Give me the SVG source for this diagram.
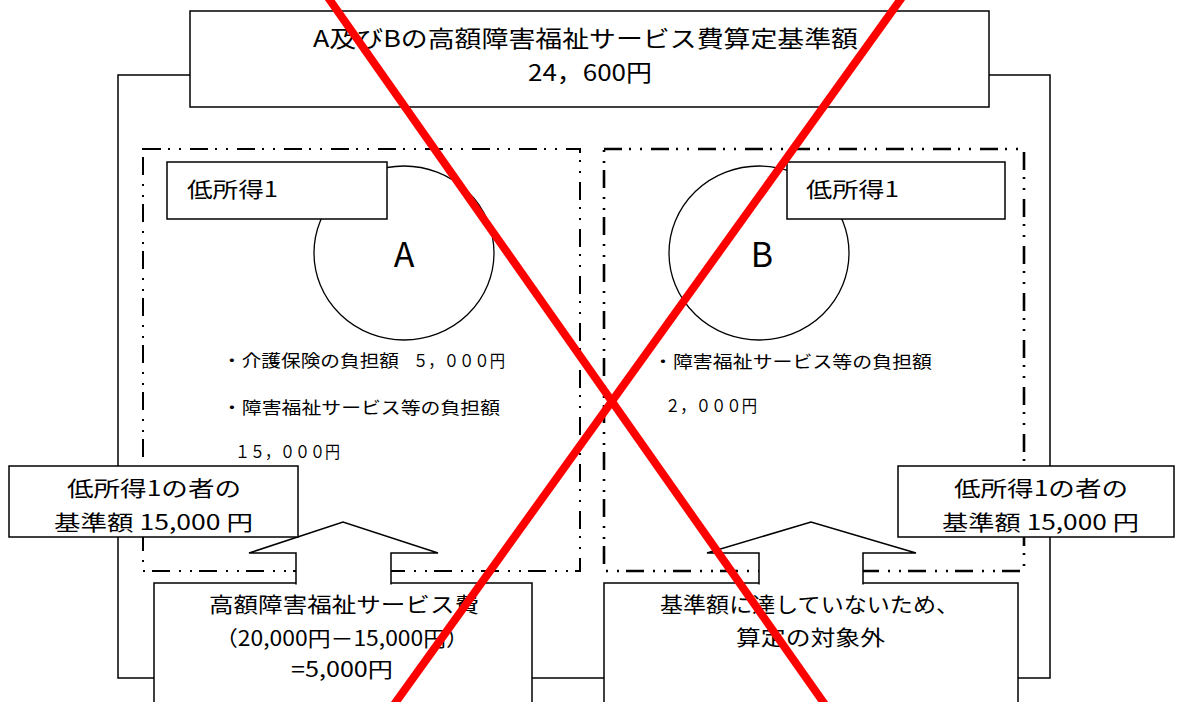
<svg xmlns="http://www.w3.org/2000/svg" width="1184" height="702" viewBox="0 0 1184 702">
<style>
text{font-family:"Noto Sans CJK JP","Noto Sans",sans-serif;fill:#000}
.box{fill:#fff;stroke:#000;stroke-width:1.5}
.frame{fill:none;stroke:#000;stroke-width:1.5}
.dd{fill:none;stroke:#000;stroke-width:2;stroke-dasharray:18 7 2 9 2 9}
.ddb{stroke-width:2.6}
.circ{fill:#fff;stroke:#000;stroke-width:1.3}
.t24{font-size:23px}
.t22{font-size:21px}
.t18{font-size:17px}
.big{font-size:34px}
.arrow{fill:#fff;stroke:#000;stroke-width:1.5;stroke-linejoin:miter}
.red{stroke:#ff0000;stroke-width:8;stroke-linecap:butt}
</style>
<rect width="1184" height="702" fill="#fff"/>
<g id="frame"><rect class="frame" x="118" y="75" width="932" height="603"/></g>
<g id="title">
<rect class="box" x="190" y="11" width="799" height="96"/>
<text class="t24" x="585.5" y="47" text-anchor="middle" textLength="545" lengthAdjust="spacingAndGlyphs">A及びBの高額障害福祉サービス費算定基準額</text>
<text class="t24" x="590" y="81" text-anchor="middle" textLength="124" lengthAdjust="spacingAndGlyphs">24，600円</text>
</g>
<g id="groupA">
<rect class="dd" x="143" y="149" width="437" height="422"/>
<ellipse class="circ" cx="404" cy="253" rx="90" ry="87"/>
<text class="big" x="404" y="267" text-anchor="middle">A</text>
<rect class="box" x="167" y="162" width="220" height="57"/>
<text class="t22" x="187" y="197" textLength="91" lengthAdjust="spacingAndGlyphs">低所得1</text>
<text class="t18" x="222" y="367" textLength="177" lengthAdjust="spacingAndGlyphs">・介護保険の負担額</text>
<text class="t18" x="413" y="367" textLength="92" lengthAdjust="spacingAndGlyphs">５，０００円</text>
<text class="t18" x="222" y="414" textLength="278" lengthAdjust="spacingAndGlyphs">・障害福祉サービス等の負担額</text>
<text class="t18" x="235" y="458" textLength="105" lengthAdjust="spacingAndGlyphs">１５，０００円</text>
</g>
<g id="groupB">
<rect class="dd ddb" x="604" y="149" width="420" height="422"/>
<ellipse class="circ" cx="759" cy="253" rx="90" ry="87"/>
<text class="big" x="762" y="267" text-anchor="middle">B</text>
<rect class="box" x="787" y="162" width="218" height="57"/>
<text class="t22" x="806" y="197" textLength="93" lengthAdjust="spacingAndGlyphs">低所得1</text>
<text class="t18" x="653" y="368" textLength="279" lengthAdjust="spacingAndGlyphs">・障害福祉サービス等の負担額</text>
<text class="t18" x="665" y="412" textLength="92" lengthAdjust="spacingAndGlyphs">２，０００円</text>
</g>
<g id="resultA">
<rect class="box" x="154" y="583" width="378" height="130"/>
<text class="t22" x="344" y="612" text-anchor="middle" textLength="270" lengthAdjust="spacingAndGlyphs">高額障害福祉サービス費</text>
<text class="t22" x="342" y="646" text-anchor="middle" textLength="254" lengthAdjust="spacingAndGlyphs">（20,000円－15,000円）</text>
<text class="t22" x="342" y="677" text-anchor="middle" textLength="102" lengthAdjust="spacingAndGlyphs">=5,000円</text>
</g>
<g id="resultB">
<rect class="box" x="604" y="583" width="414" height="130"/>
<text class="t22" x="809.5" y="612" text-anchor="middle" textLength="299" lengthAdjust="spacingAndGlyphs">基準額に達していないため、</text>
<text class="t22" x="810.5" y="645" text-anchor="middle" textLength="149" lengthAdjust="spacingAndGlyphs">算定の対象外</text>
</g>
<g id="connectors">
<path class="arrow" d="M296,584.5 L296,553 L249,553 L343,522 L438,553 L391,553 L391,584.5"/>
<path class="arrow" d="M759,584.5 L759,553 L707,553 L811,522 L916,553 L863,553 L863,584.5"/>
</g>
<g id="calloutA">
<rect class="box" x="9" y="466" width="289" height="71"/>
<text class="t22" x="154" y="496" text-anchor="middle" textLength="174" lengthAdjust="spacingAndGlyphs">低所得1の者の</text>
<text class="t22" x="153.5" y="530" text-anchor="middle" textLength="199" lengthAdjust="spacingAndGlyphs">基準額 15,000 円</text>
</g>
<g id="calloutB">
<rect class="box" x="898" y="466" width="276" height="71"/>
<text class="t22" x="1041" y="496" text-anchor="middle" textLength="174" lengthAdjust="spacingAndGlyphs">低所得1の者の</text>
<text class="t22" x="1040.5" y="530" text-anchor="middle" textLength="197" lengthAdjust="spacingAndGlyphs">基準額 15,000 円</text>
</g>
<g id="cross">
<line class="red" x1="327" y1="-4" x2="826" y2="706"/>
<line class="red" x1="903" y1="-4" x2="393" y2="706"/>
</g>
</svg>
